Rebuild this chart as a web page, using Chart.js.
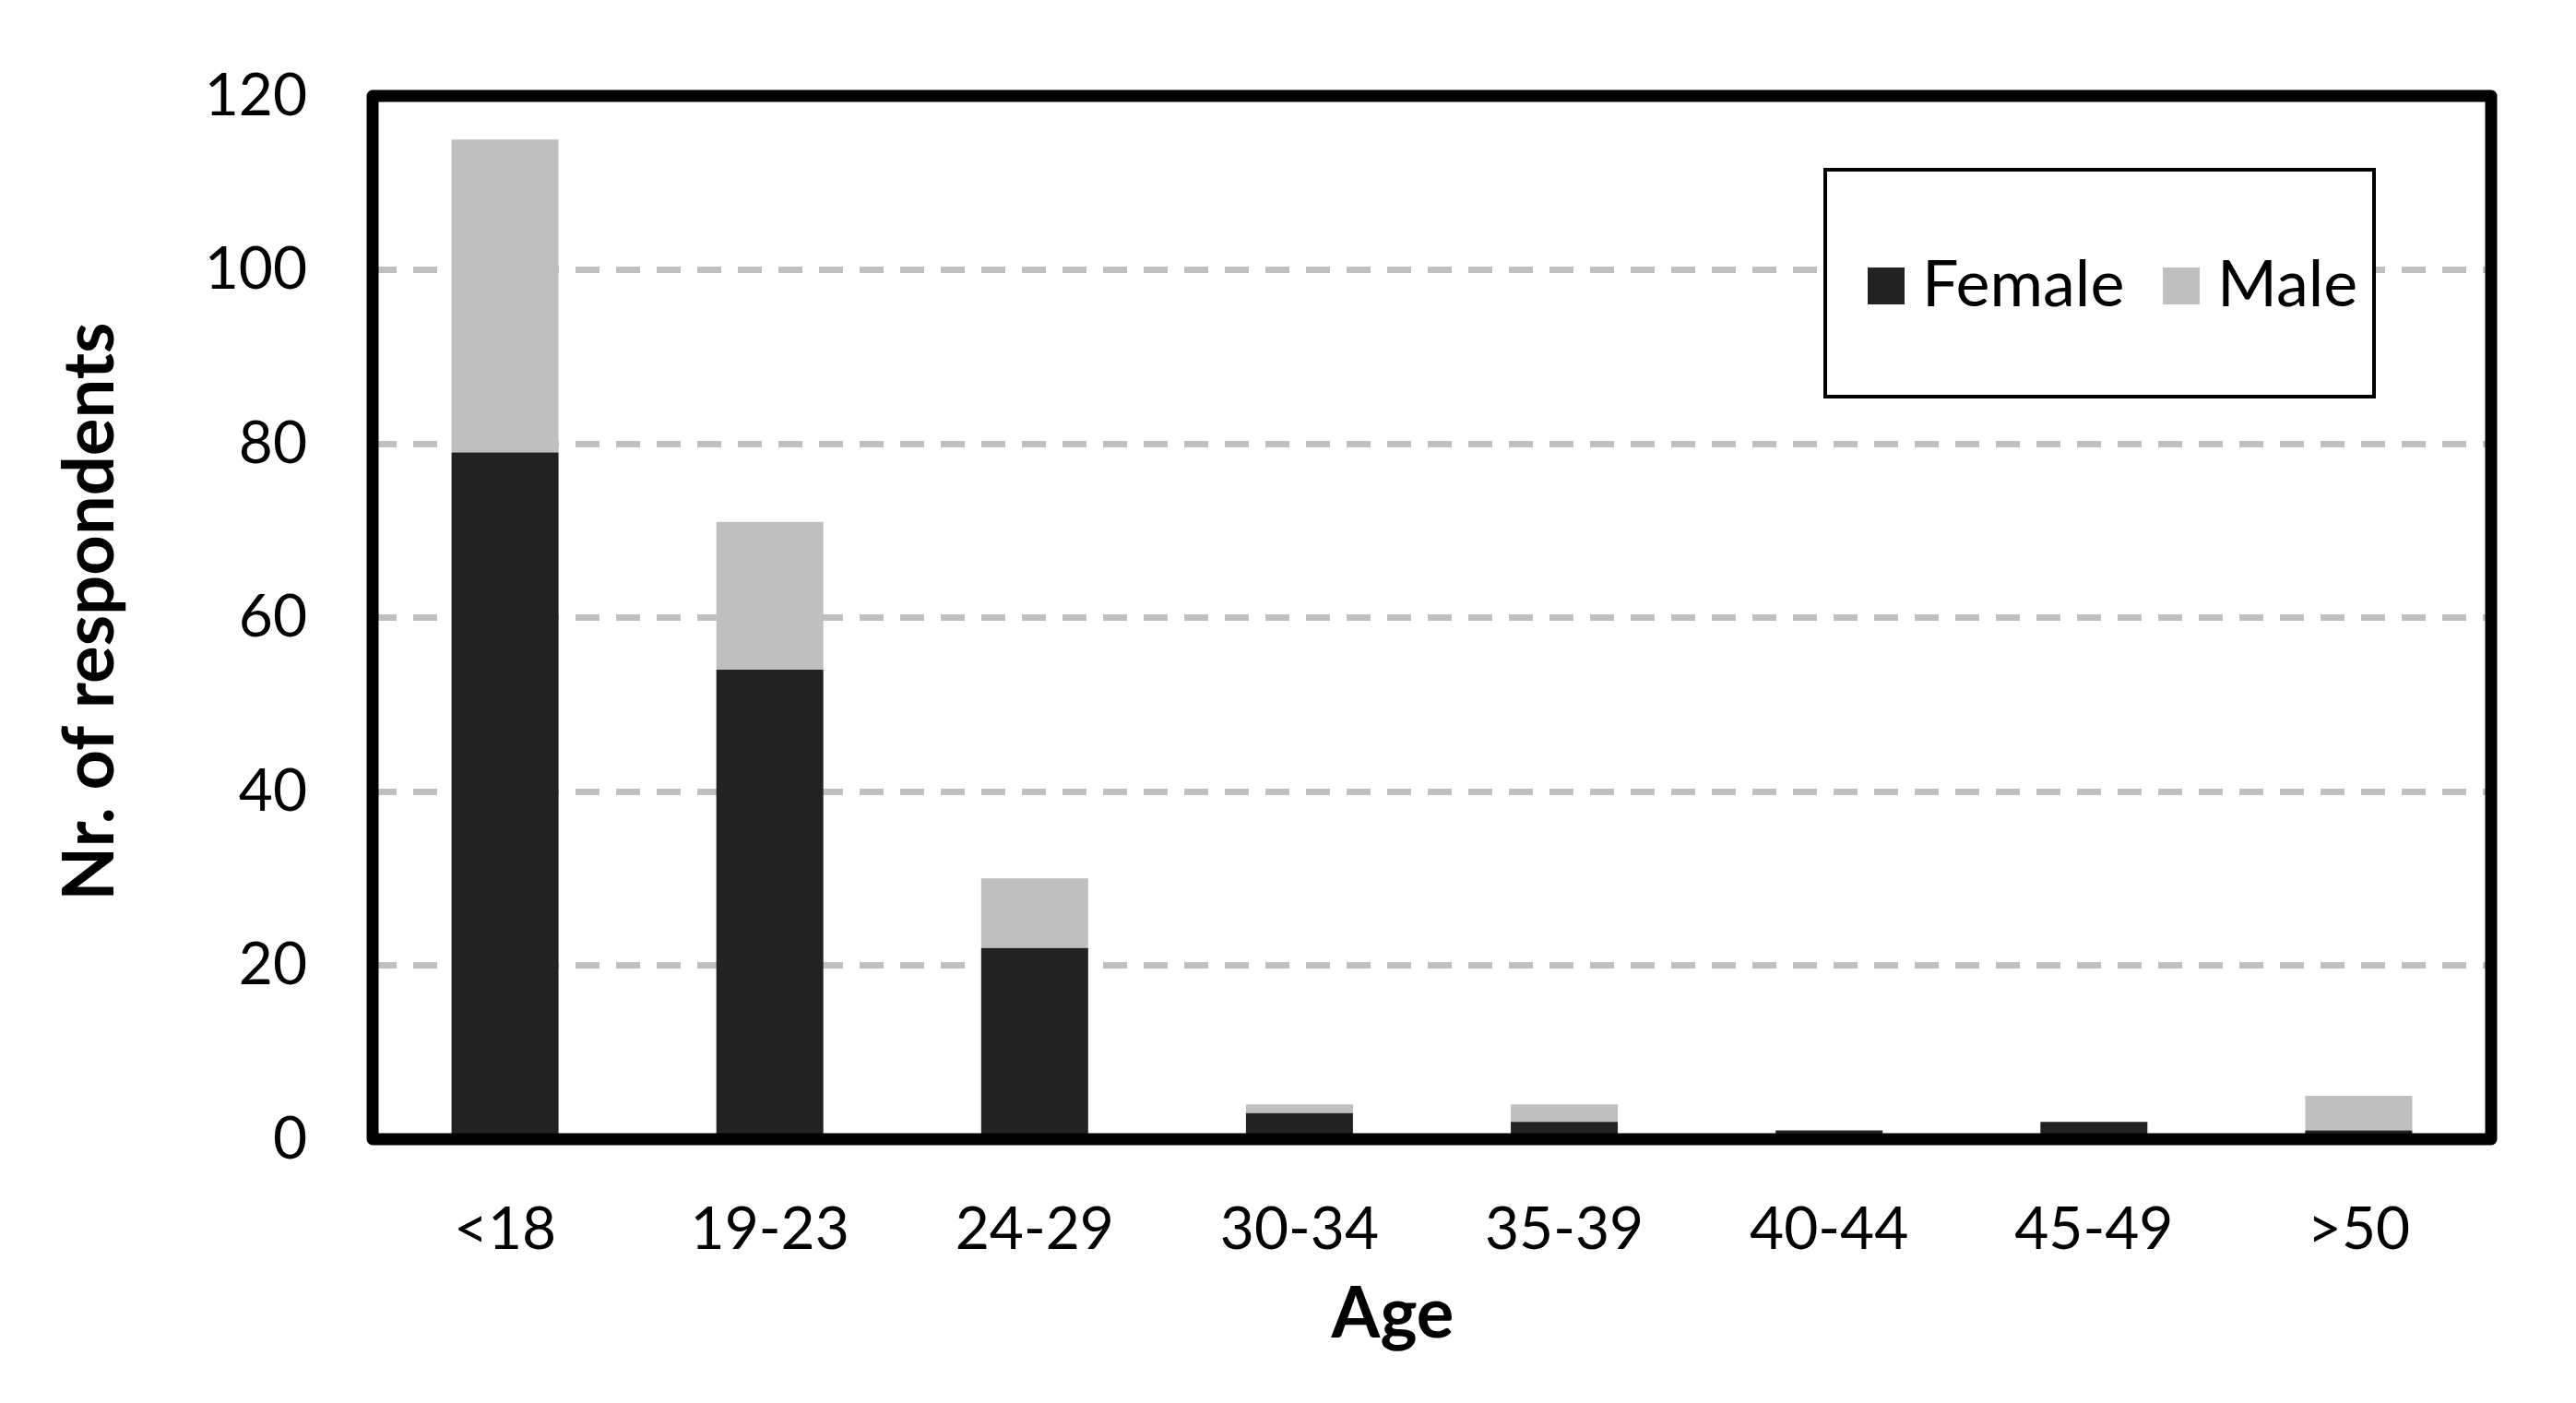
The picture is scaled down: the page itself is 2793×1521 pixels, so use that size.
<!DOCTYPE html>
<html>
<head>
<meta charset="utf-8">
<script src="https://cdn.jsdelivr.net/npm/chart.js@4.4.0/dist/chart.umd.min.js"></script>
<style>
  html, body { margin: 0; padding: 0; background: #fff; }
  #wrap { width: 2793px; height: 1521px; }
</style>
</head>
<body>
<div id="wrap"><canvas id="ageChart" width="2793" height="1521"></canvas></div>
<script>
// Chart data
const ageGroups = ['<18', '19-23', '24-29', '30-34', '35-39', '40-44', '45-49', '>50'];
const femaleCounts = [79, 54, 22, 3, 2, 1, 2, 1];
const maleCounts = [36, 17, 8, 1, 2, 0, 0, 4];
const yTicks = [0, 20, 40, 60, 80, 100, 120];

const FONT = 'Lato, "Open Sans", sans-serif';
const FEMALE_COLOR = '#222222';
const MALE_COLOR = '#bfbfbf';

// Frame, axis titles and legend box drawn on top of the bars
const decorations = {
    id: 'decorations',
    afterDatasetsDraw(chart) {
        const { ctx, chartArea } = chart;
        ctx.save();

        // plot frame
        ctx.strokeStyle = '#000';
        ctx.lineWidth = 13;
        ctx.lineJoin = 'round';
        ctx.strokeRect(chartArea.left, chartArea.top,
            chartArea.right - chartArea.left, chartArea.bottom - chartArea.top);

        // axis titles
        ctx.fillStyle = '#000';
        ctx.font = 'bold 76px ' + FONT;
        ctx.textAlign = 'center';
        ctx.textBaseline = 'middle';
        ctx.fillText('Age', 1510, 1425);

        ctx.save();
        ctx.translate(98, 663);
        ctx.rotate(-Math.PI / 2);
        ctx.fillText('Nr. of respondents', 0, 0);
        ctx.restore();

        // legend
        ctx.lineWidth = 4;
        ctx.lineJoin = 'miter';
        ctx.fillStyle = '#fff';
        ctx.fillRect(1979, 184, 595, 246);
        ctx.strokeRect(1979, 184, 595, 246);

        const items = chart.data.datasets.map(ds => ({ label: ds.label, color: ds.backgroundColor }));
        const boxX = [2025, 2345];
        ctx.font = '70px ' + FONT;
        ctx.textAlign = 'left';
        ctx.textBaseline = 'middle';
        items.forEach((item, i) => {
            ctx.fillStyle = item.color;
            ctx.fillRect(boxX[i], 290, 40, 40);
            ctx.fillStyle = '#000';
            ctx.fillText(item.label, boxX[i] + 59, 309);
        });

        ctx.restore();
    }
};

const ageChart = new Chart(document.getElementById('ageChart'), {
    type: 'bar',
    data: {
        labels: ageGroups,
        datasets: [
            {
                label: 'Female',
                data: femaleCounts,
                backgroundColor: FEMALE_COLOR,
                categoryPercentage: 1,
                barPercentage: 0.404
            },
            {
                label: 'Male',
                data: maleCounts,
                backgroundColor: MALE_COLOR,
                categoryPercentage: 1,
                barPercentage: 0.404
            }
        ]
    },
    options: {
        responsive: false,
        animation: false,
        layout: {
            padding: { top: 104, right: 92, left: 0, bottom: 0 }
        },
        plugins: {
            legend: { display: false },
            tooltip: { enabled: false }
        },
        scales: {
            x: {
                stacked: true,
                grid: { display: false, drawTicks: false },
                border: { display: false },
                ticks: {
                    color: '#000',
                    font: { family: FONT, size: 64 },
                    padding: 60,
                    maxRotation: 0
                },
                afterFit(scale) { scale.height = 286; }
            },
            y: {
                stacked: true,
                min: 0,
                max: 120,
                afterBuildTicks(scale) {
                    scale.ticks = yTicks.map(v => ({ value: v }));
                },
                grid: {
                    color: ctx => (ctx.tick.value === 0 || ctx.tick.value === 120) ? 'rgba(0,0,0,0)' : '#bfbfbf',
                    lineWidth: 7,
                    drawTicks: false
                },
                border: { display: false, dash: [26, 18] },
                ticks: {
                    color: '#000',
                    font: { family: FONT, size: 64, lineHeight: 1 },
                    padding: 71
                },
                afterFit(scale) { scale.width = 404; }
            }
        }
    },
    plugins: [decorations]
});
</script>
</body>
</html>
